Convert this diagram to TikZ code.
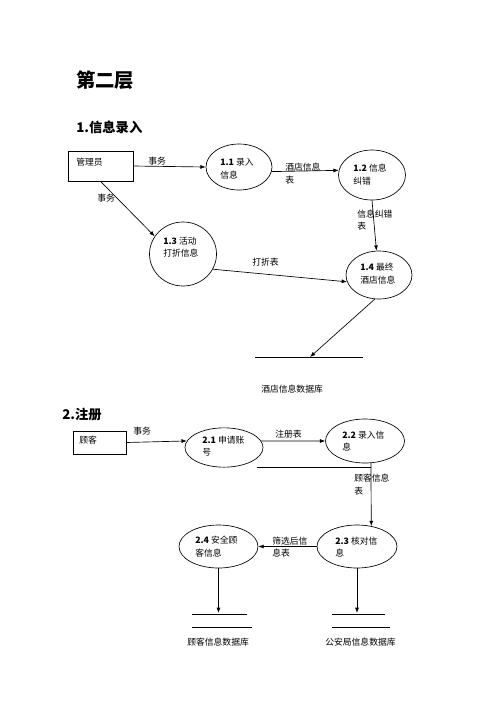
\documentclass[tikz,border=0pt]{standalone}
\usepackage{fontspec}
\setmainfont{Carlito}
\newfontfamily\cjk{Noto Sans CJK SC}
\usetikzlibrary{shapes.geometric,arrows.meta}
\tikzset{
  ell/.style={draw, ellipse, inner sep=0pt, line width=0.5pt},
  ebox/.style={draw, rectangle, inner sep=0pt, line width=0.5pt},
  lbl/.style={anchor=west, inner sep=0pt, font=\cjk\fontsize{6.6}{8}\selectfont},
  arr/.style={line width=0.5pt, -{Latex[length=4pt,width=3pt]}},
  ln/.style={line width=0.5pt},
  ttl/.style={anchor=west, inner sep=0pt, font=\cjk\bfseries\fontsize{14.5}{16}\selectfont},
  sec/.style={anchor=west, inner sep=0pt, font=\cjk\bfseries\fontsize{10}{12}\selectfont}
}
\newcommand{\pn}[1]{{\bfseries #1}}
\begin{document}
\begin{tikzpicture}[x=0.75pt,y=-0.75pt]
\useasboundingbox (0,0) rectangle (500,708);
\fill[white] (0,0) rectangle (500,708);
% titles
\node[ttl] (t0) at (76,80) {第二层};
\node[sec] (t1) at (76,127) {1.信息录入};
\node[sec] (t2) at (62,414) {2.注册};
% ---------- part 1 ----------
\node[ebox, minimum width=48.75pt, minimum height=22.5pt] (b1) at (100.5,166) {};
\node[ell, minimum width=49.5pt, minimum height=34.5pt] (e11) at (239,167) {};
\node[ell, minimum width=50.25pt, minimum height=37.5pt] (e12) at (372,175) {};
\node[ell, minimum width=50.25pt, minimum height=48pt] (e13) at (183,254) {};
\node[ell, minimum width=49.5pt, minimum height=36pt] (e14) at (379,275) {};
\coordinate (s1a) at (255,357);
\coordinate (s1b) at (363,357);
\coordinate (s1in) at (310,357);
\draw[ln] (s1a) -- (s1b);

\node[lbl] (l1) at (76,162) {管理员};
\node[lbl] (l2) at (148,161) {事务};
\node[lbl] (l3) at (220,162) {\pn{1.1} 录入};
\node[lbl] (l4) at (220,175) {信息};
\node[lbl] (l5) at (285,167) {酒店信息};
\node[lbl] (l6) at (285,180) {表};
\node[lbl] (l7) at (353,168) {\pn{1.2} 信息};
\node[lbl] (l8) at (353,181) {纠错};
\node[lbl] (l9) at (97,198) {事务};
\node[lbl] (l10) at (357,214) {信息纠错};
\node[lbl] (l11) at (357,226) {表};
\node[lbl] (l12) at (163,241) {\pn{1.3} 活动};
\node[lbl] (l13) at (163,253) {打折信息};
\node[lbl] (l14) at (252,262) {打折表};
\node[lbl] (l15) at (360,267) {\pn{1.4} 最终};
\node[lbl] (l16) at (360,280) {酒店信息};
\node[lbl] (l17) at (261,389) {酒店信息数据库};

\draw[arr] (b1.east) -- (e11.west);
\draw[arr] (b1.south) -- (e13.148);
\draw[arr] (e11.-8) -- (e12.172);
\draw[arr] (e12.south) -- (e14.96);
\draw[arr] (e13.-27) -- (e14.192);
\draw[arr] (e14.260) -- (s1in);

% ---------- part 2 ----------
\node[ebox, minimum width=39.75pt, minimum height=17.25pt] (b2) at (99.5,442.5) {};
\node[ell, minimum width=58.5pt, minimum height=29.5pt] (e21) at (224,447.5) {};
\node[ell, minimum width=59.25pt, minimum height=33pt] (e22) at (365,441) {};
\node[ell, minimum width=60pt, minimum height=32.25pt] (e23) at (357,546.5) {};
\node[ell, minimum width=59.25pt, minimum height=32.25pt] (e24) at (218.5,546.5) {};

\coordinate (h1) at (257,467);
\coordinate (h2) at (371,467);
\draw[ln] (h1) -- (h2);

\coordinate (s2in) at (218.5,613);
\coordinate (s3in) at (357,613);
\draw[ln] (192,614) -- (247,614);
\draw[ln] (192,627) -- (252,627);
\draw[ln] (332,614) -- (385,614);
\draw[ln] (332,627) -- (390,627);

\node[lbl] (m1) at (79,440) {顾客};
\node[lbl] (m2) at (133,431) {事务};
\node[lbl] (m3) at (202,440) {\pn{2.1} 申请账};
\node[lbl] (m4) at (202,452) {号};
\node[lbl] (m5) at (275,434) {注册表};
\node[lbl] (m6) at (342,435) {\pn{2.2} 录入信};
\node[lbl] (m7) at (342,447) {息};
\node[lbl] (m8) at (354,478) {顾客信息};
\node[lbl] (m9) at (354,491) {表};
\node[lbl] (m10) at (335,541) {\pn{2.3} 核对信};
\node[lbl] (m11) at (335,553) {息};
\node[lbl] (m12) at (195,540) {\pn{2.4} 安全顾};
\node[lbl] (m13) at (195,553) {客信息};
\node[lbl] (m14) at (272,541) {筛选后信};
\node[lbl] (m15) at (272,553) {息表};
\node[lbl] (m16) at (187,642) {顾客信息数据库};
\node[lbl] (m17) at (325,642) {公安局信息数据库};

\draw[arr] (b2.east) -- (e21.170);
\draw[arr] (e21.10) -- (e22.west);
\draw[arr] (e22.-75) -- (e23.55);
\draw[arr] (e23.west) -- (e24.east);
\draw[arr] (e24.south) -- (s2in);
\draw[arr] (e23.south) -- (s3in);
\end{tikzpicture}
\end{document}
